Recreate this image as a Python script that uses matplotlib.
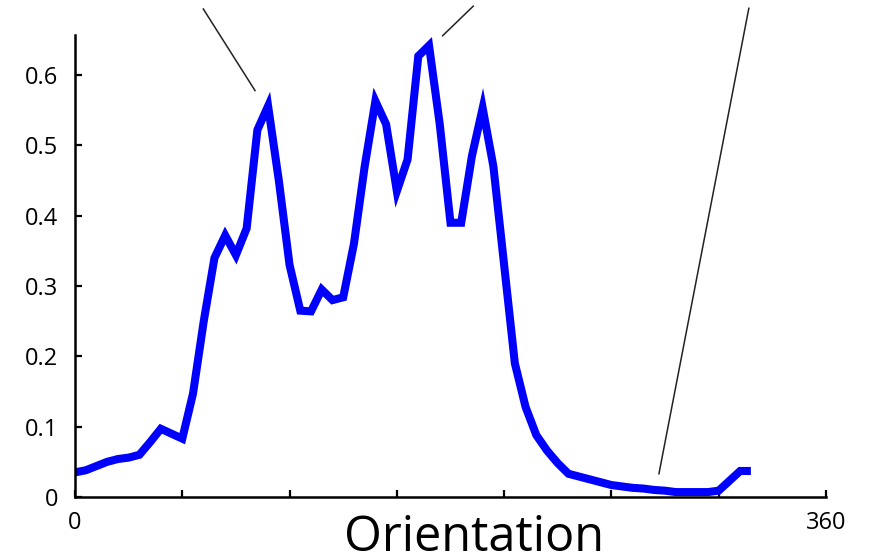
import matplotlib
matplotlib.use("Agg")
import matplotlib.pyplot as plt

# orientation histogram, one value per bin
bins = list(range(64))
response = [
    0.035, 0.038, 0.044, 0.050, 0.054, 0.056, 0.060, 0.078, 0.097, 0.090,
    0.083, 0.147, 0.250, 0.340, 0.372, 0.344, 0.382, 0.522, 0.556, 0.450,
    0.330, 0.265, 0.264, 0.295, 0.280, 0.284, 0.360, 0.470, 0.563, 0.530,
    0.435, 0.480, 0.627, 0.642, 0.530, 0.390, 0.390, 0.485, 0.553, 0.470,
    0.330, 0.190, 0.128, 0.088, 0.066, 0.048, 0.033, 0.029, 0.025, 0.021,
    0.017, 0.015, 0.013, 0.012, 0.010, 0.009, 0.007, 0.007, 0.007, 0.007,
    0.009, 0.023, 0.037, 0.037,
]
x_ticks = [0, 10, 20, 30, 40, 50, 60, 70]
x_tick_labels = ["0", "", "", "", "", "", "", "360"]
y_ticks = [0, 0.1, 0.2, 0.3, 0.4, 0.5, 0.6]
y_tick_labels = ["0", "0.1", "0.2", "0.3", "0.4", "0.5", "0.6"]

# pointer lines running up out of the plot (data coordinates)
pointers = [
    ([11.96, 16.78], [0.694, 0.578]),
    ([34.27, 37.12], [0.656, 0.698]),
    ([54.43, 62.81], [0.033, 0.695]),
]

plt.rcParams["font.family"] = ["Open Sans", "DejaVu Sans"]

fig = plt.figure(figsize=(8.7, 5.6), dpi=100)
ax = fig.add_axes([0.0862, 0.1125, 0.8632, 0.825])

ax.plot(bins, response, color="#0000ff", linewidth=5.8,
        solid_joinstyle="miter", solid_capstyle="butt")

for px, py in pointers:
    ax.plot(px, py, color="#222222", linewidth=1.1, clip_on=False)

ax.set_xlim(0, 70)
ax.set_ylim(0, 0.657)
ax.set_xticks(x_ticks)
ax.set_xticklabels(x_tick_labels, fontsize=17, color="#1a1a1a")
ax.set_yticks(y_ticks)
ax.set_yticklabels(y_tick_labels, fontsize=17, color="#1a1a1a")

ax.spines["top"].set_visible(False)
ax.spines["right"].set_visible(False)
for side in ["left", "bottom"]:
    ax.spines[side].set_linewidth(1.8)
ax.tick_params(axis="both", direction="in", width=1.6, length=5, colors="black")
ax.tick_params(axis="y", pad=12)
ax.tick_params(axis="x", pad=10)

ax.set_xlabel("Orientation", fontsize=35)
ax.xaxis.set_label_coords(0.531, -0.036)
ax.xaxis.label.set_va("top")

fig.savefig("out.png", dpi=100, facecolor="white")
